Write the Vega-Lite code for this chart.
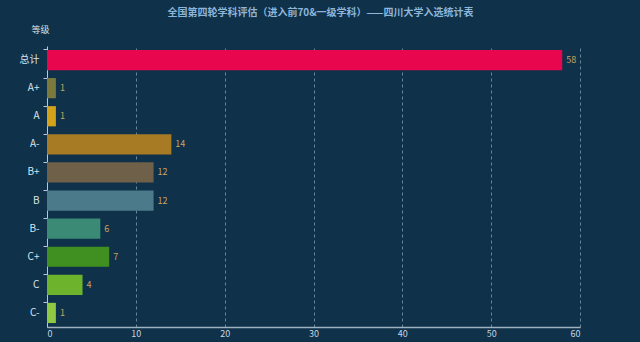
{
  "$schema": "https://vega.github.io/schema/vega-lite/v6.json",
  "autosize": {"type": "none"},
  "padding": {"left": 47, "top": 46, "right": 60, "bottom": 15},
  "width": 533,
  "height": 281,
  "background": "#0f3149",
  "config": {
    "view": {"stroke": null},
    "font": "Noto Sans CJK SC"
  },
  "title": {
    "text": "全国第四轮学科评估（进入前70&一级学科）——四川大学入选统计表",
    "fontSize": 10,
    "fontWeight": "bold",
    "color": "#8db6da",
    "anchor": "middle",
    "dx": 7,
    "offset": 7
  },
  "data": {
    "values": [
      {"grade": "总计", "count": 58, "color": "#e8064f"},
      {"grade": "A+", "count": 1, "color": "#7b7a3c"},
      {"grade": "A", "count": 1, "color": "#d4a21a"},
      {"grade": "A-", "count": 14, "color": "#a77a24"},
      {"grade": "B+", "count": 12, "color": "#6f6149"},
      {"grade": "B", "count": 12, "color": "#4b7a8b"},
      {"grade": "B-", "count": 6, "color": "#3a8a76"},
      {"grade": "C+", "count": 7, "color": "#3f9020"},
      {"grade": "C", "count": 4, "color": "#6db32c"},
      {"grade": "C-", "count": 1, "color": "#8fc843"}
    ]
  },
  "encoding": {
    "y": {
      "field": "grade",
      "type": "nominal",
      "sort": null,
      "scale": {"paddingInner": 0.28, "paddingOuter": 0.14},
      "axis": {
        "title": "等级",
        "titleAngle": 0,
        "titleX": -7,
        "titleY": -12,
        "titleAlign": "center",
        "titleFontSize": 9,
        "titleFontWeight": "normal",
        "titleColor": "#d8e4ee",
        "labelColor": "#d8e4ee",
        "labelFontSize": 10,
        "labelPadding": 4,
        "domainColor": "#b8c8d4",
        "tickColor": "#b8c8d4",
        "tickSize": 4,
        "bandPosition": 0,
        "grid": false
      }
    },
    "x": {
      "field": "count",
      "type": "quantitative",
      "scale": {"domain": [0, 60], "nice": false},
      "axis": {
        "title": null,
        "values": [0, 10, 20, 30, 40, 50, 60],
        "labelColor": "#c8d6e2",
        "labelFontSize": 9,
        "labelPadding": 2,
        "domainColor": "#9fb2c0",
        "domainWidth": 1.5,
        "ticks": false,
        "grid": true,
        "gridColor": "#7f9cb0",
        "gridDash": [3, 3],
        "gridOpacity": 0.8
      }
    }
  },
  "layer": [
    {
      "mark": {"type": "bar"},
      "encoding": {
        "color": {"field": "color", "type": "nominal", "scale": null}
      }
    },
    {
      "mark": {"type": "text", "align": "left", "baseline": "middle", "dx": 4, "fontSize": 9, "color": "#c9a45c"},
      "encoding": {
        "text": {"field": "count", "type": "quantitative"}
      }
    }
  ]
}
